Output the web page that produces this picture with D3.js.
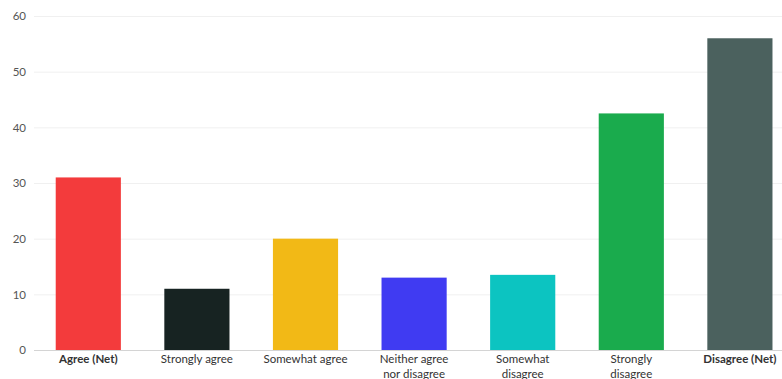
<!DOCTYPE html>
<html>
<head>
<meta charset="utf-8">
<script src="https://cdn.jsdelivr.net/npm/d3@7"></script>
<style>
  html, body { margin: 0; padding: 0; background: #fff; }
  svg { display: block; font-family: Lato, "Open Sans", sans-serif; }
</style>
</head>
<body>
<svg id="chart" width="782" height="379"></svg>
<script>
// Survey responses (percent)
const categories = [
  "Agree (Net)", "Strongly agree", "Somewhat agree",
  "Neither agree nor disagree", "Somewhat disagree",
  "Strongly disagree", "Disagree (Net)"
];
const labelLines = [
  ["Agree (Net)"], ["Strongly agree"], ["Somewhat agree"],
  ["Neither agree", "nor disagree"], ["Somewhat", "disagree"],
  ["Strongly", "disagree"], ["Disagree (Net)"]
];
const boldLabels = ["Agree (Net)", "Disagree (Net)"];
const values = [31, 11, 20, 13, 13.5, 42.5, 56];
const colors = ["#f33b3c", "#172322", "#f2b916", "#403bf2", "#0cc4c1", "#1aab4d", "#4b615e"];
const yTicks = [0, 10, 20, 30, 40, 50, 60];

(function () {
  const svg = d3.select("#chart");
  const plotLeft = 34, plotRight = 782, plotTop = 16, plotBottom = 350;

  const y = d3.scaleLinear().domain([0, 60]).range([plotBottom, plotTop]);
  const x = d3.scaleBand()
    .domain(categories)
    .range([plotLeft, 794.2])
    .paddingInner(0.4)
    .paddingOuter(0.2);

  // Gridlines
  svg.append("g")
    .selectAll("line")
    .data(yTicks.filter(d => d > 0))
    .join("line")
    .attr("x1", plotLeft).attr("x2", plotRight)
    .attr("y1", d => y(d) + 0.5).attr("y2", d => y(d) + 0.5)
    .attr("stroke", "#f0f0f0").attr("stroke-width", 1);

  // Y axis labels
  const yAxis = svg.append("g")
    .attr("transform", `translate(${plotLeft},0)`)
    .call(d3.axisLeft(y).tickValues(yTicks).tickSize(0).tickPadding(8));
  yAxis.select(".domain").remove();
  yAxis.selectAll("text")
    .attr("fill", "#555").attr("font-size", 11.5)
    .attr("font-family", "Lato, sans-serif");

  // Bars
  svg.append("g")
    .selectAll("rect")
    .data(categories)
    .join("rect")
    .attr("x", d => x(d))
    .attr("width", x.bandwidth())
    .attr("y", (d, i) => y(values[i]))
    .attr("height", (d, i) => y(0) - y(values[i]))
    .attr("fill", (d, i) => colors[i]);

  // Baseline
  svg.append("line")
    .attr("x1", plotLeft).attr("x2", plotRight)
    .attr("y1", y(0) + 0.5).attr("y2", y(0) + 0.5)
    .attr("stroke", "#d4d4d4").attr("stroke-width", 1);

  // Category labels
  const lab = svg.append("g")
    .selectAll("text")
    .data(categories)
    .join("text")
    .attr("x", d => x(d) + x.bandwidth() / 2)
    .attr("y", 363)
    .attr("text-anchor", "middle")
    .attr("font-size", 11.5)
    .attr("fill", "#333")
    .attr("font-weight", d => boldLabels.includes(d) ? "bold" : "normal");
  lab.each(function (d, i) {
    const t = d3.select(this);
    labelLines[i].forEach((line, k) => {
      t.append("tspan")
        .attr("x", x(d) + x.bandwidth() / 2)
        .attr("dy", k === 0 ? 0 : 15)
        .text(line);
    });
  });
})();
</script>
</body>
</html>
